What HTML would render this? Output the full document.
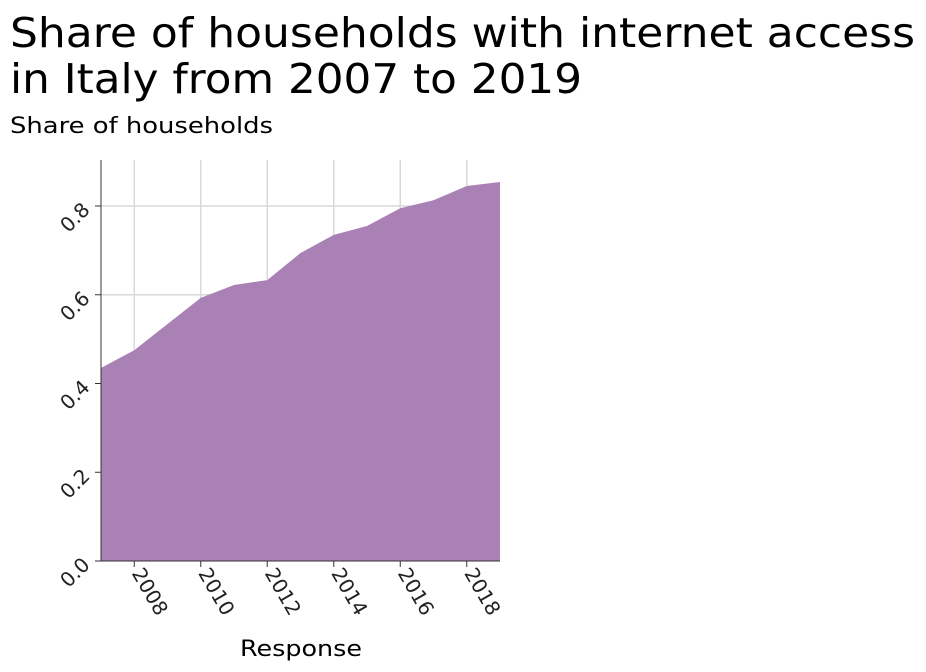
<!DOCTYPE html>
<html><head><meta charset="utf-8">
<style>
body{margin:0;background:#fff;font-family:"DejaVu Sans","Liberation Sans",sans-serif;}
#wrap{position:relative;width:926px;height:672px;overflow:hidden;}
text{font-family:"DejaVu Sans","Liberation Sans",sans-serif;}
</style></head>
<body>
<div id="wrap">
<svg id="chart" width="926" height="672">
<text x="10" y="47" font-size="41" fill="#000" textLength="905" lengthAdjust="spacingAndGlyphs">Share of households with internet access</text>
<text x="10" y="93" font-size="41" fill="#000" textLength="572" lengthAdjust="spacingAndGlyphs">in Italy from 2007 to 2019</text>
<text x="10" y="133" font-size="22" fill="#000" textLength="263" lengthAdjust="spacingAndGlyphs">Share of households</text>
<text x="240" y="656" font-size="22" fill="#000" textLength="122" lengthAdjust="spacingAndGlyphs">Response</text>
<g id="grid"></g>
<g id="marks"></g>
<g id="axes"></g>
</svg>
</div>
<script>
const years=[2007,2008,2009,2010,2011,2012,2013,2014,2015,2016,2017,2018,2019];
const shares=[0.435,0.475,0.534,0.593,0.622,0.633,0.694,0.735,0.755,0.795,0.813,0.845,0.854];
const xTicks=[2008,2010,2012,2014,2016,2018];
const yTicks=[0.0,0.2,0.4,0.6,0.8];
const yTickLabels=["0.0","0.2","0.4","0.6","0.8"];

const L=101,R=500,T=160,B=561;
const xS=v=>L+(v-2007)/(2019-2007)*(R-L);
const yS=v=>B-v/0.8*(B-206);
const NS="http://www.w3.org/2000/svg";
function mk(tag,attrs,parent){const e=document.createElementNS(NS,tag);for(const k in attrs)e.setAttribute(k,attrs[k]);parent.appendChild(e);return e;}
const grid=document.getElementById('grid'),marks=document.getElementById('marks'),axes=document.getElementById('axes');

xTicks.forEach(t=>{
  const g=mk('line',{x1:xS(t),x2:xS(t),y1:T,y2:B,stroke:'#d9d9d9','stroke-width':1.5},grid);
  
  
  const tk=mk('line',{x1:xS(t),x2:xS(t),y1:B,y2:B+6,stroke:'#333','stroke-width':1},axes);
  
  
  const x=xS(t)-3,y=B+12;
  const lb=mk('text',{x:x,y:y,'font-size':20,fill:'#222',transform:`rotate(60 ${x} ${y})`},axes);
  lb.textContent=t;
  
  
});
yTicks.forEach((t,i)=>{
  if(t>0){
    const g=mk('line',{x1:L,x2:R,y1:yS(t),y2:yS(t),stroke:'#d9d9d9','stroke-width':1.5},grid);
    
    
  }
  const tk=mk('line',{x1:L-6,x2:L,y1:yS(t),y2:yS(t),stroke:'#333','stroke-width':1},axes);
  
  
  const x=L-10,y=yS(t)+5;
  const lb=mk('text',{x:x,y:y,'font-size':20,fill:'#222','text-anchor':'end',transform:`rotate(-45 ${x} ${y})`},axes);
  lb.textContent=yTickLabels[i];
  
  
});
let d=`M${xS(years[0])},${yS(0)}`;
years.forEach((y,i)=>{d+=` L${xS(y)},${yS(shares[i])}`;});
d+=` L${xS(years[years.length-1])},${yS(0)} Z`;
const area=mk('path',{d:d,fill:'#a981b4'},marks);


const ya=mk('line',{x1:L,x2:L,y1:T,y2:B,stroke:'#333','stroke-width':1},axes);


const xa=mk('line',{x1:L,x2:R,y1:B,y2:B,stroke:'#333','stroke-width':1},axes);


</script>
</body></html>
